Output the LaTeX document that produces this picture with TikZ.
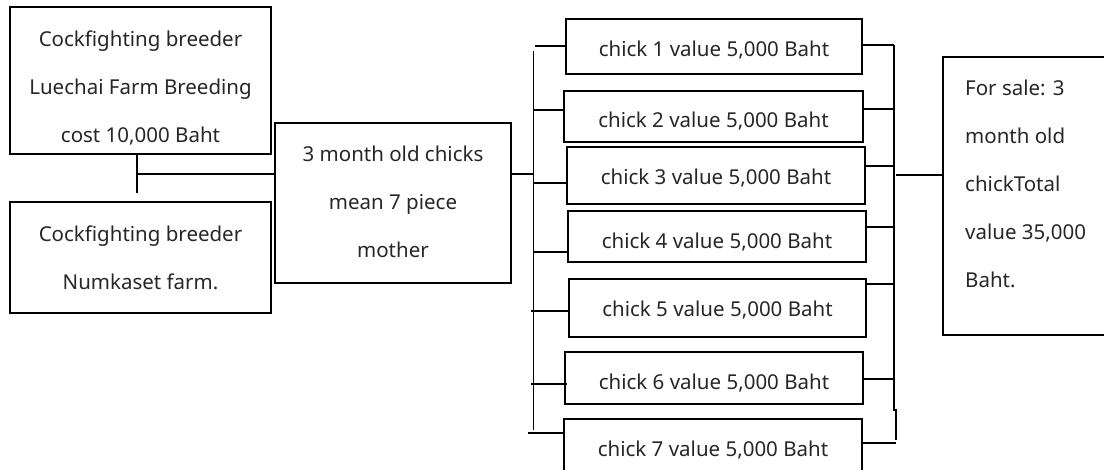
\documentclass[tikz,border=0pt]{standalone}
\usepackage{fontspec}
\setmainfont{Noto Sans}
\begin{document}
\begin{tikzpicture}[x=1pt,y=-1pt,
  box/.style={draw, line width=2.9pt, inner sep=0pt},
  conn/.style={line width=1.2pt},
  txt/.style={font=\fontsize{20.5}{48}\selectfont, align=center, inner sep=0pt, text=black!85},
]
\useasboundingbox (0,0) rectangle (1104,470);
\clip (0,0) rectangle (1104,470);

% breeder boxes
\node[box, minimum width=261pt, minimum height=147pt] (A) at (140.5,80.5) {};
\node[box, minimum width=261pt, minimum height=111pt] (B) at (140.5,257.5) {};
\node[txt] (tA) at (140.5,88) {Cockfighting breeder\\Luechai Farm Breeding\\cost 10,000 Baht};
\node[txt] (tB) at (140.5,257.5) {Cockfighting breeder\\Numkaset farm.};

% chicks box
\node[box, minimum width=236pt, minimum height=160pt] (M) at (393,203) {};
\node[txt] (tM) at (393,202) {3 month old chicks\\mean 7 piece\\mother};

% single chick boxes
\node[box, minimum width=296pt, minimum height=55pt] (c1) at (714,46.5) {};
\node[box, minimum width=299pt, minimum height=51pt] (c2) at (713.5,116.5) {};
\node[box, minimum width=298pt, minimum height=57pt] (c3) at (716,175.5) {};
\node[box, minimum width=298pt, minimum height=51pt] (c4) at (717,236.5) {};
\node[box, minimum width=297pt, minimum height=58pt] (c5) at (717.5,308) {};
\node[box, minimum width=298pt, minimum height=52pt] (c6) at (714,378) {};
\node[box, minimum width=298pt, minimum height=63pt] (c7) at (713,450.5) {};
\node[txt] (t1) at (714,50) {chick 1 value 5,000 Baht};
\node[txt] (t2) at (713.5,121) {chick 2 value 5,000 Baht};
\node[txt] (t3) at (716,178) {chick 3 value 5,000 Baht};
\node[txt] (t4) at (717,242) {chick 4 value 5,000 Baht};
\node[txt] (t5) at (717.5,310) {chick 5 value 5,000 Baht};
\node[txt] (t6) at (714,383) {chick 6 value 5,000 Baht};
\node[txt] (t7) at (713,450) {chick 7 value 5,000 Baht};

% sale box
\node[box, minimum width=177pt, minimum height=278pt] (S) at (1031.5,196) {};
\node[txt, align=left, anchor=west] (tS) at (965,184) {For sale: 3\\month old\\chickTotal\\value 35,000\\Baht.};

% breeders to chicks
\coordinate (jL) at (137,174);
\draw[conn] (A.south -| jL) -- (jL |- 0,193);
\draw[conn] (jL) -- (jL -| M.west);

% chicks box to the left bracket
\coordinate (jM) at (533.5,174);
\draw[conn] (jM -| M.east) -- (jM);
\draw[conn] (533.5,51) -- (533.5,430);
\draw[conn] (535,46) -- (c1.west |- 0,46);
\draw[conn] (533.5,110) -- (c2.west |- 0,110);
\draw[conn] (533.5,183) -- (c3.west |- 0,183);
\draw[conn] (533.5,252) -- (c4.west |- 0,252);
\draw[conn] (531,311) -- (c5.west |- 0,311);
\draw[conn] (531,384) -- ([xshift=3pt]c6.west |- 0,384);
\draw[conn] (528,433) -- (c7.west |- 0,433);

% right bracket to the sale box
\draw[conn] (894,45) -- (894,410) -- (896,410) -- (896,440);
\draw[conn] (c1.east |- 0,45) -- (894,45);
\draw[conn] (c2.east |- 0,109) -- (894,109);
\draw[conn] (c3.east |- 0,166) -- (894,166);
\draw[conn] (c4.east |- 0,227) -- (894,227);
\draw[conn] (c5.east |- 0,284) -- (894,284);
\draw[conn] (c6.east |- 0,379) -- (893,379);
\draw[conn] (c7.east |- 0,443) -- (896,443);
\coordinate (jR) at (896,175);
\draw[conn] (jR) -- (jR -| S.west);
\end{tikzpicture}
\end{document}
